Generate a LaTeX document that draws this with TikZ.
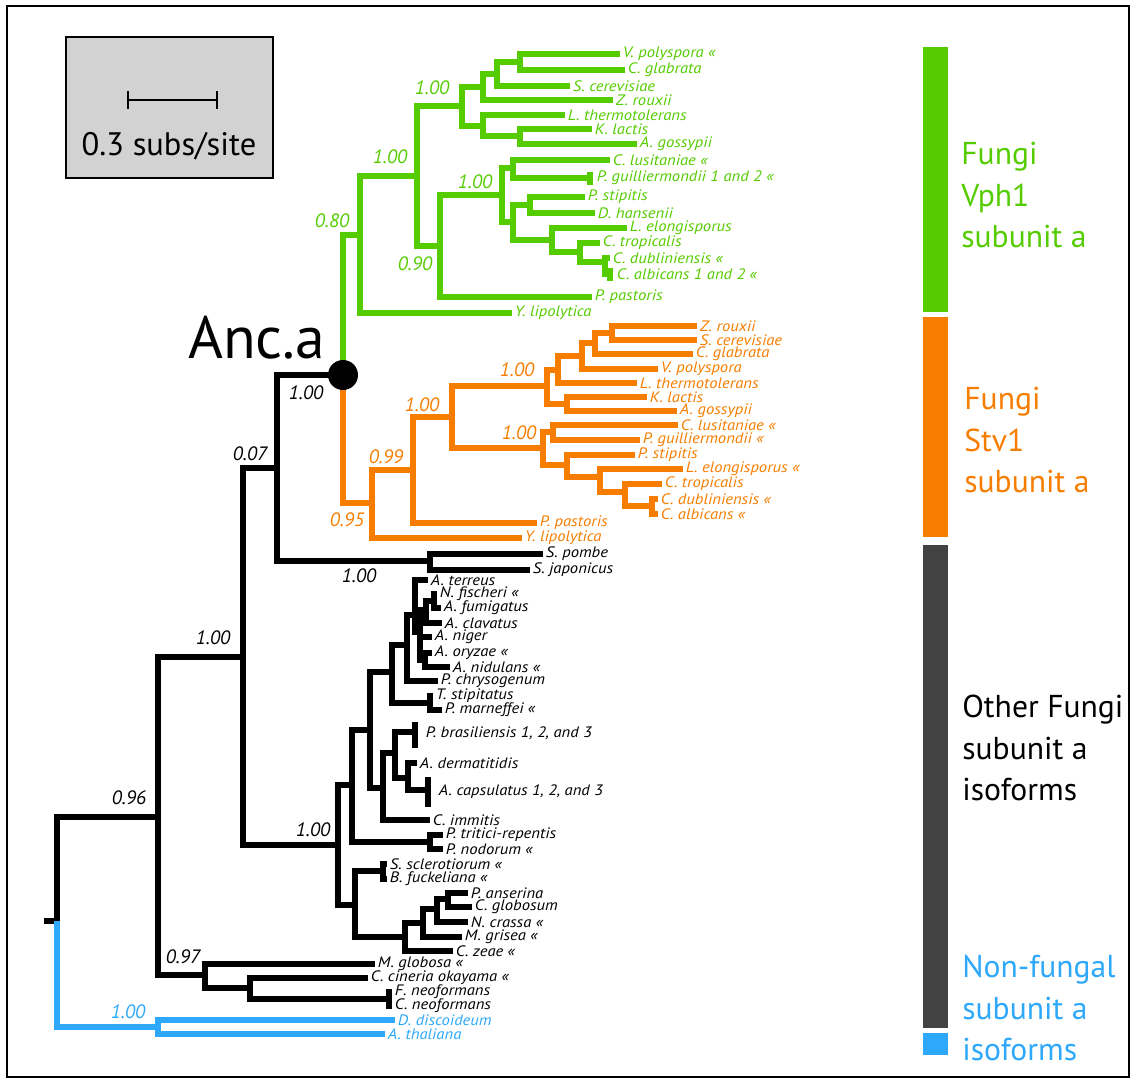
\documentclass[tikz,border=0pt]{standalone}
\usepackage{fontspec}
\setmainfont{PT Sans}
\newfontfamily\taxonfont{PT Sans}[FakeStretch=1.1]
\definecolor{vphgreen}{RGB}{85,204,0}
\definecolor{stvorange}{RGB}{247,125,0}
\definecolor{plantblue}{RGB}{45,168,250}
\definecolor{othergray}{RGB}{66,66,66}

\begin{document}
\begin{tikzpicture}[x=0.02cm, y=-0.02cm,
  branch/.style={line width=3.2pt},
  gbranch/.style={branch, vphgreen},
  obranch/.style={branch, stvorange},
  kbranch/.style={branch, black},
  bbranch/.style={branch, plantblue},
  taxon/.style={anchor=west, inner xsep=1.5pt, inner ysep=0pt, font=\taxonfont\fontsize{8.6}{9}\selectfont\itshape},
  supp/.style={inner sep=0pt, font=\fontsize{11}{12}\selectfont\itshape},
  group/.style={anchor=west, align=left, inner sep=0pt, font=\fontsize{18}{23.8}\selectfont},
  ancdot/.style={circle, fill=black, minimum size=0.6cm, inner sep=0pt}]
\useasboundingbox (0,0) rectangle (1133,1083);
\draw[line width=0.8pt] (7,6) rectangle (1129,1077);

% scale box
\draw[fill=gray!35, line width=0.8pt] (66,37) rectangle (273,178);
\coordinate (sbl) at (128,100);
\coordinate (sbr) at (217,100);
\draw[line width=1.6pt] (sbl) -- (sbr);
\draw[line width=1.6pt] (sbl) ++(0,-9) -- ++(0,18);
\draw[line width=1.6pt] (sbr) ++(0,-9) -- ++(0,18);
\node[font=\fontsize{18.5}{20}\selectfont] (scale) at (169,146) {0.3 subs/site};

% group bars
\fill[vphgreen] (923,47) rectangle (948,312);
\fill[stvorange] (923,317) rectangle (948,537);
\fill[othergray] (923,545) rectangle (948,1028);
\fill[plantblue] (923,1033) rectangle (948,1055);
\node[group, vphgreen] (lvph) at (961,195) {Fungi\\Vph1\\subunit a};
\node[group, stvorange] (lstv) at (964,440) {Fungi\\Stv1\\subunit a};
\node[group] (lother) at (962,748) {Other Fungi\\subunit a\\isoforms};
\node[group, plantblue] (lnon) at (962,1008) {Non-fungal\\subunit a\\isoforms};

% ancestor
\coordinate (ancpt) at (343,375);
\node[anchor=base west, inner sep=0pt, font=\fontsize{34}{34}\selectfont] (anclab) at (188,358) {Anc.a};

% Vph1 clade
\coordinate (g360) at (360,235);
\coordinate (g417) at (417,176);
\coordinate (g462) at (462,106);
\coordinate (g483a) at (483,87);
\coordinate (g497) at (497,74);
\coordinate (g520a) at (520,62);
\coordinate (g483b) at (483,126);
\coordinate (g520b) at (520,136);
\coordinate (g440) at (440,246);
\coordinate (g502) at (502,195);
\coordinate (g513a) at (513,168);
\coordinate (g513b) at (513,222);
\coordinate (g530) at (530,205);
\coordinate (g552) at (552,240);
\coordinate (g580) at (580,252);
\coordinate (g605) at (605,262);
\coordinate (gpgt) at (590,178);
\coordinate (gcat) at (610,274);
\node[taxon, vphgreen] (gvpol) at (620,54) {V. polyspora «};
\node[taxon, vphgreen] (gcgla) at (625,70) {C. glabrata};
\node[taxon, vphgreen] (gscer) at (570,86) {S. cerevisiae};
\node[taxon, vphgreen] (gzrou) at (613,100) {Z. rouxii};
\node[taxon, vphgreen] (glthe) at (565,115) {L. thermotolerans};
\node[taxon, vphgreen] (gklac) at (592,129) {K. lactis};
\node[taxon, vphgreen] (gagos) at (637,144) {A. gossypii};
\node[taxon, vphgreen] (gclus) at (610,160) {C. lusitaniae «};
\node[taxon, vphgreen] (gpgui) at (594,178) {P. guilliermondii 1 and 2 «};
\node[taxon, vphgreen] (gpsti) at (585,197) {P. stipitis};
\node[taxon, vphgreen] (gdhan) at (595,213) {D. hansenii};
\node[taxon, vphgreen] (glelo) at (627,228) {L. elongisporus};
\node[taxon, vphgreen] (gctro) at (600,243) {C. tropicalis};
\node[taxon, vphgreen] (gcdub) at (610,258) {C. dubliniensis «};
\node[taxon, vphgreen] (gcalb) at (614,274) {C. albicans 1 and 2 «};
\node[taxon, vphgreen] (gppas) at (592,297) {P. pastoris};
\node[taxon, vphgreen] (gylip) at (512,313) {Y. lipolytica};
\draw[gbranch] (ancpt) |- (g360);
\draw[gbranch] (g360) |- (g417);
\draw[gbranch] (g360) |- (gylip.west);
\draw[gbranch] (g417) |- (g462);
\draw[gbranch] (g417) |- (g440);
\draw[gbranch] (g462) |- (g483a);
\draw[gbranch] (g462) |- (g483b);
\draw[gbranch] (g483a) |- (g497);
\draw[gbranch] (g483a) |- (gzrou.west);
\draw[gbranch] (g497) |- (g520a);
\draw[gbranch] (g497) |- (gscer.west);
\draw[gbranch] (g520a) |- (gvpol.west);
\draw[gbranch] (g520a) |- (gcgla.west);
\draw[gbranch] (g483b) |- (glthe.west);
\draw[gbranch] (g483b) |- (g520b);
\draw[gbranch] (g520b) |- (gklac.west);
\draw[gbranch] (g520b) |- (gagos.west);
\draw[gbranch] (g440) |- (g502);
\draw[gbranch] (g440) |- (gppas.west);
\draw[gbranch] (g502) |- (g513a);
\draw[gbranch] (g502) |- (g513b);
\draw[gbranch] (g513a) |- (gclus.west);
\draw[gbranch] (g513a) |- (gpgt);
\draw[gbranch] (gpgt) ++(0,-6) -- ++(0,13);
\draw[gbranch] (g513b) |- (g530);
\draw[gbranch] (g513b) |- (g552);
\draw[gbranch] (g530) |- (gpsti.west);
\draw[gbranch] (g530) |- (gdhan.west);
\draw[gbranch] (g552) |- (glelo.west);
\draw[gbranch] (g552) |- (g580);
\draw[gbranch] (g580) |- (gctro.west);
\draw[gbranch] (g580) |- (g605);
\draw[gbranch] (g605) |- (gcdub.west);
\draw[gbranch] (g605) |- (gcat);
\draw[gbranch] (gcat) ++(0,-6) -- ++(0,13);
\node[supp, vphgreen] (sg1) at (332,221) {0.80};
\node[supp, vphgreen] (sg2) at (390,157) {1.00};
\node[supp, vphgreen] (sg3) at (432,88) {1.00};
\node[supp, vphgreen] (sg4) at (415,264) {0.90};
\node[supp, vphgreen] (sg5) at (475,182) {1.00};

% Stv1 clade
\coordinate (o372) at (372,503);
\coordinate (o413) at (413,470);
\coordinate (o452) at (452,417);
\coordinate (o547) at (547,386);
\coordinate (o558) at (558,370);
\coordinate (o582) at (582,356);
\coordinate (o595) at (595,343);
\coordinate (o612) at (612,333);
\coordinate (o567a) at (567,404);
\coordinate (o543) at (543,448);
\coordinate (o553) at (553,432);
\coordinate (o567b) at (567,465);
\coordinate (o600) at (600,477);
\coordinate (o625) at (625,492);
\coordinate (o652) at (652,506);
\node[taxon, stvorange] (ozrou) at (697,326) {Z. rouxii};
\node[taxon, stvorange] (oscer) at (697,340) {S. cerevisiae};
\node[taxon, stvorange] (ocgla) at (693,354) {C. glabrata};
\node[taxon, stvorange] (ovpol) at (658,369) {V. polyspora};
\node[taxon, stvorange] (olthe) at (637,383) {L. thermotolerans};
\node[taxon, stvorange] (oklac) at (647,397) {K. lactis};
\node[taxon, stvorange] (oagos) at (677,411) {A. gossypii};
\node[taxon, stvorange] (oclus) at (678,425) {C. lusitaniae «};
\node[taxon, stvorange] (opgui) at (640,440) {P. guilliermondii «};
\node[taxon, stvorange] (opsti) at (635,455) {P. stipitis};
\node[taxon, stvorange] (olelo) at (683,469) {L. elongisporus «};
\node[taxon, stvorange] (octro) at (662,484) {C. tropicalis};
\node[taxon, stvorange] (ocdub) at (658,499) {C. dubliniensis «};
\node[taxon, stvorange] (ocalb) at (658,514) {C. albicans «};
\node[taxon, stvorange] (oppas) at (537,523) {P. pastoris};
\node[taxon, stvorange] (oylip) at (522,538) {Y. lipolytica};
\draw[obranch] (ancpt) |- (o372);
\draw[obranch] (o372) |- (o413);
\draw[obranch] (o372) |- (oylip.west);
\draw[obranch] (o413) |- (o452);
\draw[obranch] (o413) |- (oppas.west);
\draw[obranch] (o452) |- (o547);
\draw[obranch] (o452) |- (o543);
\draw[obranch] (o547) |- (o558);
\draw[obranch] (o547) |- (o567a);
\draw[obranch] (o558) |- (o582);
\draw[obranch] (o558) |- (olthe.west);
\draw[obranch] (o582) |- (o595);
\draw[obranch] (o582) |- (ovpol.west);
\draw[obranch] (o595) |- (o612);
\draw[obranch] (o595) |- (ocgla.west);
\draw[obranch] (o612) |- (ozrou.west);
\draw[obranch] (o612) |- (oscer.west);
\draw[obranch] (o567a) |- (oklac.west);
\draw[obranch] (o567a) |- (oagos.west);
\draw[obranch] (o543) |- (o553);
\draw[obranch] (o543) |- (o567b);
\draw[obranch] (o553) |- (oclus.west);
\draw[obranch] (o553) |- (opgui.west);
\draw[obranch] (o567b) |- (opsti.west);
\draw[obranch] (o567b) |- (o600);
\draw[obranch] (o600) |- (olelo.west);
\draw[obranch] (o600) |- (o625);
\draw[obranch] (o625) |- (octro.west);
\draw[obranch] (o625) |- (o652);
\draw[obranch] (o652) |- (ocdub.west);
\draw[obranch] (o652) |- (ocalb.west);
\node[supp, stvorange] (so1) at (347,520) {0.95};
\node[supp, stvorange] (so2) at (386,457) {0.99};
\node[supp, stvorange] (so3) at (422,405) {1.00};
\node[supp, stvorange] (so4) at (517,370) {1.00};
\node[supp, stvorange] (so5) at (519,433) {1.00};

% other fungi
\coordinate (rootstub) at (44,921);
\coordinate (root) at (57,921);
\coordinate (k158) at (158,817);
\coordinate (k243) at (243,657);
\coordinate (k277) at (277,468);
\coordinate (k430) at (430,561);
\coordinate (k205) at (205,975);
\coordinate (k250) at (250,988);
\coordinate (kneo) at (389,999);
\coordinate (k338) at (338,845);
\coordinate (k352) at (352,785);
\coordinate (k430b) at (430,842);
\coordinate (k370) at (370,730);
\coordinate (k392) at (392,672);
\coordinate (k407) at (407,645);
\coordinate (kasp) at (415,615);
\coordinate (ka1) at (420,632);
\coordinate (ka2) at (426,610);
\coordinate (ka3) at (434,601);
\coordinate (ka4) at (425,660);
\coordinate (ktp) at (430,703);
\coordinate (k383) at (383,788);
\coordinate (k395) at (395,753);
\coordinate (kpbt) at (415,732);
\coordinate (k408) at (408,778);
\coordinate (kact) at (428,790);
\coordinate (k355) at (355,905);
\coordinate (kss) at (383,871);
\coordinate (k405) at (405,937);
\coordinate (k423) at (423,923);
\coordinate (k437) at (437,909);
\coordinate (k448) at (448,899);
\node[taxon] (kspom) at (543,554) {S. pombe};
\node[taxon] (ksjap) at (530,570) {S. japonicus};
\node[taxon] (kater) at (428,580) {A. terreus};
\node[taxon] (knfis) at (437,594) {N. fischeri «};
\node[taxon] (kafum) at (441,608) {A. fumigatus};
\node[taxon] (kacla) at (442,623) {A. clavatus};
\node[taxon] (kanig) at (432,637) {A. niger};
\node[taxon] (kaory) at (432,653) {A. oryzae «};
\node[taxon] (kanid) at (450,667) {A. nidulans «};
\node[taxon] (kpchr) at (438,681) {P. chrysogenum};
\node[taxon] (ktsti) at (433,696) {T. stipitatus};
\node[taxon] (kpmar) at (442,710) {P. marneffei «};
\node[taxon] (kpbra) at (423,733) {P. brasiliensis 1, 2, and 3};
\node[taxon] (kader) at (417,763) {A. dermatitidis};
\node[taxon] (kacap) at (436,792) {A. capsulatus 1, 2, and 3};
\node[taxon] (kcimm) at (430,820) {C. immitis};
\node[taxon] (kptri) at (443,835) {P. tritici-repentis};
\node[taxon] (kpnod) at (443,849) {P. nodorum «};
\node[taxon] (ksscl) at (387,864) {S. sclerotiorum «};
\node[taxon] (kbfuc) at (387,879) {B. fuckeliana «};
\node[taxon] (kpans) at (468,893) {P. anserina};
\node[taxon] (kcglo) at (472,907) {C. globosum};
\node[taxon] (kncra) at (468,922) {N. crassa «};
\node[taxon] (kmgri) at (462,937) {M. grisea «};
\node[taxon] (kczea) at (453,951) {C. zeae «};
\node[taxon] (kmglo) at (375,964) {M. globosa «};
\node[taxon] (kccin) at (368,978) {C. cineria okayama «};
\node[taxon] (kfneo) at (392,992) {F. neoformans};
\node[taxon] (kcneo) at (392,1006) {C. neoformans};
\draw[kbranch] (rootstub) -- (root);
\draw[kbranch] (root) |- (k158);
\draw[kbranch] (k158) |- (k243);
\draw[kbranch] (k158) |- (k205);
\draw[kbranch] (k243) |- (k277);
\draw[kbranch] (k243) |- (k338);
\draw[kbranch] (k277) |- (ancpt);
\draw[kbranch] (k277) |- (k430);
\draw[kbranch] (k430) |- (kspom.west);
\draw[kbranch] (k430) |- (ksjap.west);
\draw[kbranch] (k205) |- (kmglo.west);
\draw[kbranch] (k205) |- (k250);
\draw[kbranch] (k250) |- (kccin.west);
\draw[kbranch] (k250) |- (kneo);
\draw[kbranch] (kneo) |- (kfneo.west);
\draw[kbranch] (kneo) |- (kcneo.west);
\draw[kbranch] (k338) |- (k352);
\draw[kbranch] (k338) |- (k355);
\draw[kbranch] (k352) |- (k370);
\draw[kbranch] (k352) |- (k430b);
\draw[kbranch] (k430b) |- (kptri.west);
\draw[kbranch] (k430b) |- (kpnod.west);
\draw[kbranch] (k370) |- (k392);
\draw[kbranch] (k370) |- (k383);
\draw[kbranch] (k392) |- (k407);
\draw[kbranch] (k392) |- (ktp);
\draw[kbranch] (k407) |- (kasp);
\draw[kbranch] (k407) |- (kpchr.west);
\draw[kbranch] (kasp) |- (kater.west);
\draw[kbranch] (kasp) |- (ka1);
\draw[kbranch] (ka1) |- (ka2);
\draw[kbranch] (ka1) |- (kanig.west);
\draw[kbranch] (ka1) |- (ka4);
\draw[kbranch] (ka2) |- (ka3);
\draw[kbranch] (ka2) |- (kacla.west);
\draw[kbranch] (ka3) |- (knfis.west);
\draw[kbranch] (ka3) |- (kafum.west);
\draw[kbranch] (ka4) |- (kaory.west);
\draw[kbranch] (ka4) |- (kanid.west);
\draw[kbranch] (ktp) |- (ktsti.west);
\draw[kbranch] (ktp) |- (kpmar.west);
\draw[kbranch] (k383) |- (k395);
\draw[kbranch] (k383) |- (kcimm.west);
\draw[kbranch] (k395) |- (kpbt);
\draw[kbranch] (kpbt) ++(0,-10) -- ++(0,26);
\draw[kbranch] (k395) |- (k408);
\draw[kbranch] (k408) |- (kader.west);
\draw[kbranch] (k408) |- (kact);
\draw[kbranch] (kact) ++(0,-13) -- ++(0,30);
\draw[kbranch] (k355) |- (kss);
\draw[kbranch] (k355) |- (k405);
\draw[kbranch] (kss) |- (ksscl.west);
\draw[kbranch] (kss) |- (kbfuc.west);
\draw[kbranch] (k405) |- (k423);
\draw[kbranch] (k405) |- (kczea.west);
\draw[kbranch] (k423) |- (k437);
\draw[kbranch] (k423) |- (kmgri.west);
\draw[kbranch] (k437) |- (k448);
\draw[kbranch] (k437) |- (kncra.west);
\draw[kbranch] (k448) |- (kpans.west);
\draw[kbranch] (k448) |- (kcglo.west);
\node[supp] (sk1) at (306,393) {1.00};
\node[supp] (sk2) at (250,454) {0.07};
\node[supp] (sk3) at (359,576) {1.00};
\node[supp] (sk4) at (213,638) {1.00};
\node[supp] (sk5) at (313,830) {1.00};
\node[supp] (sk6) at (129,798) {0.96};
\node[supp] (sk7) at (183,957) {0.97};

% non-fungal
\coordinate (b158) at (158,1027);
\node[taxon, plantblue] (bddis) at (395,1020) {D. discoideum};
\node[taxon, plantblue] (batha) at (385,1034) {A. thaliana};
\draw[bbranch] (root) |- (b158);
\draw[bbranch] (b158) |- (bddis.west);
\draw[bbranch] (b158) |- (batha.west);
\node[supp, plantblue] (sb1) at (128,1012) {1.00};

\node[ancdot] (anc) at (ancpt) {};
\end{tikzpicture}
\end{document}
